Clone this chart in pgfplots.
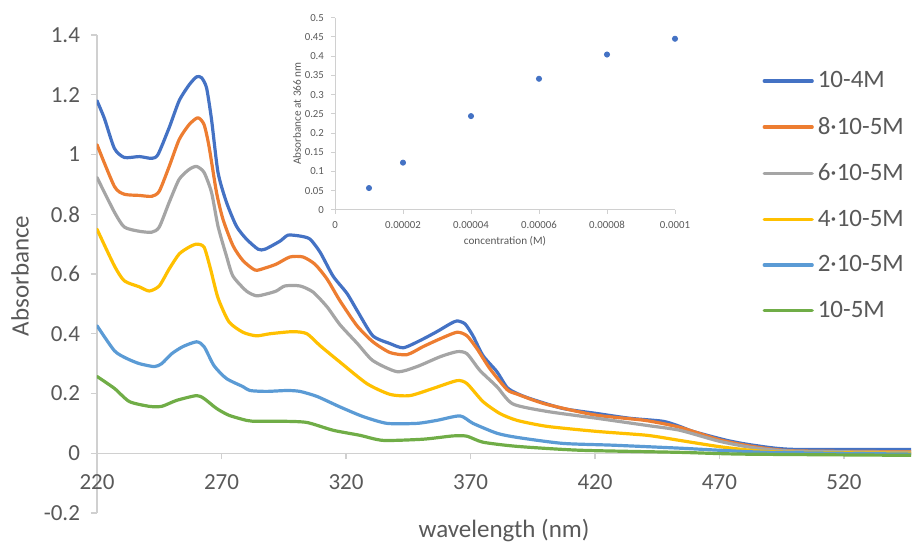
\documentclass[border=0pt]{standalone}
\usepackage{pgfplots}
\pgfplotsset{compat=1.18}
\usepackage{fontspec}
\setmainfont{Carlito}
\definecolor{txt}{HTML}{595959}
\definecolor{axgray}{HTML}{D0D0D0}
\definecolor{cA}{HTML}{4472C4}
\definecolor{cB}{HTML}{ED7D31}
\definecolor{cC}{HTML}{A5A5A5}
\definecolor{cD}{HTML}{FFC000}
\definecolor{cE}{HTML}{5B9BD5}
\definecolor{cF}{HTML}{70AD47}
\pgfplotsset{/pgf/number format/assume math mode=true}
\begin{document}
\begin{tikzpicture}[x=1pt,y=1pt]
\path[use as bounding box] (0,0) rectangle (456,272.5);
\begin{axis}[
  at={(48.5pt,16pt)}, anchor=south west,
  scale only axis, width=407.1pt, height=239pt,
  xmin=220, xmax=547, ymin=-0.2, ymax=1.4,
  axis x line=middle, axis y line=left,
  axis line style={-, draw=axgray, line width=0.7pt},
  hide obscured x ticks=false, hide obscured y ticks=false,
  xtick={220,270,320,370,420,470,520},
  ytick={-0.2,0,0.2,0.4,0.6,0.8,1,1.2,1.4},
  tick align=outside, major tick length=3pt,
  tick style={draw=axgray, line width=0.7pt},
  ticklabel style={font=\fontsize{11.5}{13}\selectfont, text=txt},
  xticklabel style={yshift=-4pt},
  yticklabel style={xshift=-2pt},
  xlabel={wavelength (nm)}, ylabel={Absorbance},
  xlabel style={at={(axis description cs:0.5,-0.037)}, anchor=center, font=\fontsize{12.5}{14}\selectfont, text=txt},
  ylabel style={at={(axis description cs:-0.0946,0.496)}, anchor=center, rotate=0, font=\fontsize{12.5}{14}\selectfont, text=txt},
  every axis plot/.append style={line width=1.6pt, line join=round, line cap=round, smooth, tension=0.4},
  legend style={at={(axis description cs:0.817,0.933)}, anchor=north west, draw=none, fill=none,
    font=\fontsize{12.5}{14}\selectfont, text=txt, row sep=9.2pt, inner sep=0pt},
  legend cell align=left,
  legend image code/.code={\draw[#1, line width=1.6pt, sharp plot] (0pt,0pt) -- (24pt,0pt);},
]
\addplot[cA] coordinates {
(220,1.18) (223,1.12) (227,1.02) (231,0.99) (237,0.993) (242,0.987) (244.5,1.0) (249,1.09)
(253,1.18) (257,1.233) (260,1.26) (262,1.257) (264,1.223) (266,1.117) (268.6,0.94) (272,0.84)
(276,0.76) (280,0.717) (284.7,0.683) (287.5,0.683) (293.5,0.71) (296.7,0.73) (301.5,0.727)
(305.5,0.717) (309.6,0.673) (314.8,0.593) (320.4,0.535) (324.8,0.473) (330.8,0.393) (337.7,0.367)
(343,0.353) (349.7,0.377) (356.5,0.407) (361.8,0.433) (364.6,0.443) (367.8,0.433) (371,0.393)
(375,0.327) (380.6,0.273) (384.7,0.22) (388.7,0.2) (393.9,0.183) (407,0.15) (420.8,0.133)
(434,0.117) (447.3,0.107) (454,0.09) (459.4,0.073) (473,0.043) (483.5,0.027) (499.5,0.013) (547,0.013)
};
\addlegendentry{10-4M}
\addplot[cB] coordinates {
(220,1.033) (227,0.893) (231,0.867) (237,0.863) (242,0.86) (245,0.877) (249,0.96) (253,1.05)
(257,1.10) (260.5,1.123) (263,1.10) (265,1.027) (268,0.873) (270.6,0.783) (274.6,0.695) (278.6,0.645)
(283.5,0.613) (287.5,0.62) (292,0.633) (297.5,0.657) (302.7,0.657) (307.5,0.633) (312.4,0.583)
(317.6,0.51) (324.4,0.427) (330.8,0.373) (337.7,0.337) (344.5,0.33) (351,0.357) (357.8,0.383)
(364.6,0.405) (368.6,0.393) (372.6,0.35) (377.8,0.283) (384.7,0.213) (388.7,0.198) (400,0.165)
(420,0.128) (440,0.11) (454,0.087) (470,0.045) (484,0.022) (500,0.008) (547,0.005)
};
\addlegendentry{8·10-5M}
\addplot[cC] coordinates {
(220,0.923) (227,0.807) (231,0.757) (237,0.743) (242,0.74) (245,0.757) (249,0.84) (253,0.917)
(257,0.95) (260,0.96) (263,0.94) (266,0.873) (268.6,0.76) (272,0.66) (274.6,0.593) (280,0.543)
(284,0.527) (288,0.533) (292,0.543) (295.5,0.56) (301.5,0.56) (306.7,0.54) (312.4,0.49)
(317.6,0.43) (324.6,0.367) (330.8,0.31) (340.5,0.273) (348.5,0.29) (357.8,0.323) (364.6,0.34)
(368.6,0.333) (373.8,0.277) (380.6,0.223) (387,0.165) (400.7,0.14) (420.8,0.117) (440.9,0.093)
(454,0.077) (470,0.04) (484,0.018) (500,0.007) (547,0.003)
};
\addlegendentry{6·10-5M}
\addplot[cD] coordinates {
(220,0.75) (227,0.627) (231,0.577) (237,0.557) (241,0.543) (245,0.56) (249,0.617) (253,0.667)
(257,0.69) (260,0.70) (263,0.69) (265.5,0.62) (268.6,0.52) (273,0.44) (278.6,0.405) (284,0.393)
(289.5,0.40) (298.7,0.407) (304.3,0.40) (309.6,0.36) (317.6,0.305) (328.4,0.233) (337.7,0.197)
(345.7,0.193) (355,0.217) (364.6,0.243) (368.6,0.233) (375,0.173) (381.8,0.133) (388.7,0.11)
(400.7,0.09) (420.8,0.073) (440.9,0.06) (454,0.043) (470,0.022) (485,0.008) (500,0.003) (547,0.0)
};
\addlegendentry{4·10-5M}
\addplot[cE] coordinates {
(220,0.427) (227,0.343) (232,0.317) (237,0.30) (243,0.29) (246,0.30) (250,0.333) (254.5,0.357)
(260,0.373) (263,0.357) (267,0.293) (272,0.25) (278.6,0.223) (281.4,0.21) (288,0.207) (296.3,0.21)
(301.5,0.207) (308.4,0.19) (317.6,0.155) (326.8,0.123) (336.5,0.10) (348.5,0.10) (356.5,0.11)
(365.8,0.125) (371,0.10) (380.6,0.067) (388.7,0.053) (407,0.033) (427,0.027) (454,0.017)
(470,0.01) (490,0.003) (547,-0.003)
};
\addlegendentry{2·10-5M}
\addplot[cF] coordinates {
(220,0.257) (227,0.217) (233,0.173) (241,0.157) (246,0.157) (252,0.177) (260,0.193) (263,0.183)
(268,0.15) (273,0.127) (280,0.11) (282.6,0.107) (294.7,0.107) (304.3,0.103) (314.8,0.077)
(325.6,0.06) (334.9,0.043) (351,0.047) (363,0.058) (368.6,0.057) (375,0.037) (388.7,0.023)
(414,0.01) (454,0.003) (480,-0.003) (547,-0.007)
};
\addlegendentry{10-5M}
\end{axis}
\begin{axis}[
  at={(167.5pt,167.5pt)}, anchor=south west,
  scale only axis, width=170pt, height=96.2pt,
  xmin=0, xmax=0.0001, ymin=0, ymax=0.5,
  axis lines=left,
  axis line style={-, draw=axgray, line width=0.5pt},
  scaled x ticks=false, scaled y ticks=false,
  xtick={0,0.00002,0.00004,0.00006,0.00008,0.0001},
  xticklabels={0,0.00002,0.00004,0.00006,0.00008,0.0001},
  ytick={0,0.05,0.1,0.15,0.2,0.25,0.3,0.35,0.4,0.45,0.5},
  yticklabels={0,0.05,0.1,0.15,0.2,0.25,0.3,0.35,0.4,0.45,0.5},
  tick align=outside, major tick length=2pt,
  tick style={draw=axgray, line width=0.5pt},
  ticklabel style={font=\fontsize{5.4}{6}\selectfont, text=txt},
  xlabel={concentration (M)}, ylabel={Absorbance at 366 nm},
  xlabel style={at={(axis description cs:0.5,-0.161)}, anchor=center, font=\fontsize{5.6}{6.5}\selectfont, text=txt},
  ylabel style={at={(axis description cs:-0.112,0.5)}, anchor=center, font=\fontsize{5.6}{6.5}\selectfont, text=txt},
]
\addplot[only marks, mark=*, mark size=1.3pt, color=cA] coordinates {
(0.00001,0.057) (0.00002,0.123) (0.00004,0.244) (0.00006,0.341) (0.00008,0.404) (0.0001,0.445)
};
\end{axis}
\end{tikzpicture}
\end{document}
